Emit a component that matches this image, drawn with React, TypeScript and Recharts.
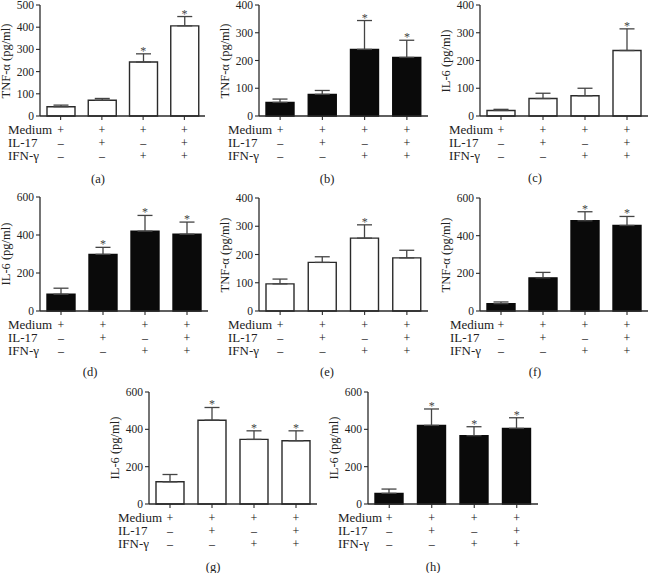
import React from "react";
import { ComposedChart, Bar, Line, ErrorBar, XAxis, YAxis } from "recharts";

const FONT = "'Liberation Serif', 'DejaVu Serif', serif";

// conditions (x categories) and the +/- table under each panel
const conditions = ["c1", "c2", "c3", "c4"];
const rowNames = ["Medium", "IL-17", "IFN-\u03b3"];
const mediumSigns = ["+", "+", "+", "+"];
const il17Signs = ["\u2013", "+", "\u2013", "+"];
const ifnSigns = ["\u2013", "\u2013", "+", "+"];

const ticks400 = [0, 100, 200, 300, 400];
const ticks500 = [0, 100, 200, 300, 400, 500];
const ticks600 = [0, 200, 400, 600];

// (a) TNF-α
const aMeans = [42, 71, 243, 406];
const aErrors = [7, 8, 37, 42];
const aSig = [false, false, true, true];
// (b) TNF-α
const bMeans = [49, 78, 240, 211];
const bErrors = [12, 14, 104, 62];
const bSig = [false, false, true, true];
// (c) IL-6
const cMeans = [20, 63, 73, 236];
const cErrors = [4, 19, 27, 78];
const cSig = [false, false, false, true];
// (d) IL-6
const dMeans = [88, 298, 420, 404];
const dErrors = [32, 37, 83, 64];
const dSig = [false, true, true, true];
// (e) TNF-α
const eMeans = [96, 172, 258, 188];
const eErrors = [17, 20, 47, 27];
const eSig = [false, false, true, false];
// (f) TNF-α
const fMeans = [39, 176, 479, 454];
const fErrors = [9, 29, 48, 48];
const fSig = [false, false, true, true];
// (g) IL-6
const gMeans = [119, 449, 346, 339];
const gErrors = [39, 68, 46, 53];
const gSig = [false, true, true, true];
// (h) IL-6
const hMeans = [57, 421, 366, 405];
const hErrors = [23, 88, 48, 57];
const hSig = [false, true, true, true];

const panels = [
  { id: "a", means: aMeans, errors: aErrors, sig: aSig, yLabel: "TNF-\u03b1 (pg/ml)", ticks: ticks500, black: false,
    axisX: 40, rightX: 205, topY: 5, zeroY: 116, rowX: 8, letterX: 98, letterY: 179 },
  { id: "b", means: bMeans, errors: bErrors, sig: bSig, yLabel: "TNF-\u03b1 (pg/ml)", ticks: ticks400, black: true,
    axisX: 259, rightX: 428, topY: 5, zeroY: 116, rowX: 228, letterX: 327, letterY: 179 },
  { id: "c", means: cMeans, errors: cErrors, sig: cSig, yLabel: "IL-6 (pg/ml)", ticks: ticks400, black: false,
    axisX: 480, rightX: 648, topY: 5, zeroY: 116, rowX: 449, letterX: 535, letterY: 178 },
  { id: "d", means: dMeans, errors: dErrors, sig: dSig, yLabel: "IL-6 (pg/ml)", ticks: ticks600, black: true,
    axisX: 40, rightX: 208, topY: 197, zeroY: 311, rowX: 8, letterX: 90, letterY: 372 },
  { id: "e", means: eMeans, errors: eErrors, sig: eSig, yLabel: "TNF-\u03b1 (pg/ml)", ticks: ticks400, black: false,
    axisX: 259, rightX: 428, topY: 198, zeroY: 311, rowX: 228, letterX: 327, letterY: 372 },
  { id: "f", means: fMeans, errors: fErrors, sig: fSig, yLabel: "TNF-\u03b1 (pg/ml)", ticks: ticks600, black: true,
    axisX: 480, rightX: 648, topY: 198, zeroY: 311, rowX: 450, letterX: 535, letterY: 372 },
  { id: "g", means: gMeans, errors: gErrors, sig: gSig, yLabel: "IL-6 (pg/ml)", ticks: ticks600, black: false,
    axisX: 149, rightX: 317, topY: 392, zeroY: 504, rowX: 118, letterX: 213, letterY: 567 },
  { id: "h", means: hMeans, errors: hErrors, sig: hSig, yLabel: "IL-6 (pg/ml)", ticks: ticks600, black: true,
    axisX: 368, rightX: 538, topY: 392, zeroY: 504, rowX: 338, letterX: 433, letterY: 567 },
];

const YW = 40;
const XH = 48;
const MT = 8;

function SignTick(props: any) {
  const { x, y } = props;
  const i = props.index ?? props.payload?.index ?? 0;
  const rows = [mediumSigns, il17Signs, ifnSigns];
  return (
    <g>
      {rows.map((r, k) => (
        <text key={k} x={x} y={y + 9.5 + k * 13.3} textAnchor="middle" dominantBaseline="central"
          fontSize={12} fontFamily={FONT} fill="#111">{r[i]}</text>
      ))}
    </g>
  );
}

function StarDot(props: any) {
  const { cx, cy, payload, index } = props;
  if (payload?.star == null || cy == null) return <g key={index} />;
  return (
    <text key={index} x={cx} y={cy + 1} textAnchor="middle" fontSize={12} fontFamily={FONT} fill="#444">*</text>
  );
}

function Panel({ p }: { p: any }) {
  const data = conditions.map((c, i) => ({
    name: c,
    mean: p.means[i],
    err: [0, p.errors[i]],
    star: p.sig[i] ? p.means[i] + p.errors[i] : null,
  }));
  const w = p.rightX - p.axisX + YW + 2;
  const h = p.zeroY - p.topY + MT + XH;
  const yMax = p.ticks[p.ticks.length - 1];
  const ink = "#2a2a2a";
  return (
    <>
      <div style={{ position: "absolute", left: p.axisX - YW, top: p.topY - MT }}>
        <ComposedChart width={w} height={h} data={data} margin={{ top: MT, right: 2, left: 0, bottom: 0 }}>
          <XAxis dataKey="name" type="category" height={XH} interval={0} tickSize={4} tickMargin={0}
            axisLine={{ stroke: ink, strokeWidth: 1.3 }} tickLine={{ stroke: ink, strokeWidth: 1.1 }}
            tick={<SignTick />} />
          <YAxis type="number" width={YW} domain={[0, yMax]} ticks={p.ticks} tickSize={4} tickMargin={2}
            axisLine={{ stroke: ink, strokeWidth: 1.3 }} tickLine={{ stroke: ink, strokeWidth: 1.1 }}
            tick={{ fontSize: 11.5, fontFamily: FONT, fill: "#222" }} />
          <Bar dataKey="mean" barSize={28} fill={p.black ? "#0a0a0a" : "#fff"}
            stroke={p.black ? "#0a0a0a" : ink} strokeWidth={1.4} isAnimationActive={false}>
            <ErrorBar dataKey="err" width={7.5} stroke="#444" strokeWidth={1.3} direction="y" />
          </Bar>
          <Line dataKey="star" stroke="none" dot={<StarDot />} activeDot={false} isAnimationActive={false} />
        </ComposedChart>
      </div>
      <div style={{ position: "absolute", left: p.axisX - 34, top: (p.topY + p.zeroY) / 2,
        transform: "translate(-50%, -50%) rotate(-90deg)", whiteSpace: "nowrap", fontSize: 12.5, color: "#222" }}>
        {p.yLabel}
      </div>
      {rowNames.map((r, k) => (
        <div key={r} style={{ position: "absolute", left: p.rowX, top: p.zeroY + 13.5 + k * 13.3 - 6,
          lineHeight: "12px", fontSize: 13, color: "#222", whiteSpace: "nowrap" }}>{r}</div>
      ))}
      <div style={{ position: "absolute", left: p.letterX, top: p.letterY, transform: "translate(-50%, -50%)",
        fontSize: 12.5, color: "#222" }}>({p.id})</div>
    </>
  );
}

export default function App() {
  return (
    <div style={{ position: "absolute", left: 0, top: 0, width: 650, height: 573, background: "#fff",
      fontFamily: FONT, overflow: "hidden" }}>
      {panels.map(p => <Panel key={p.id} p={p} />)}
    </div>
  );
}
